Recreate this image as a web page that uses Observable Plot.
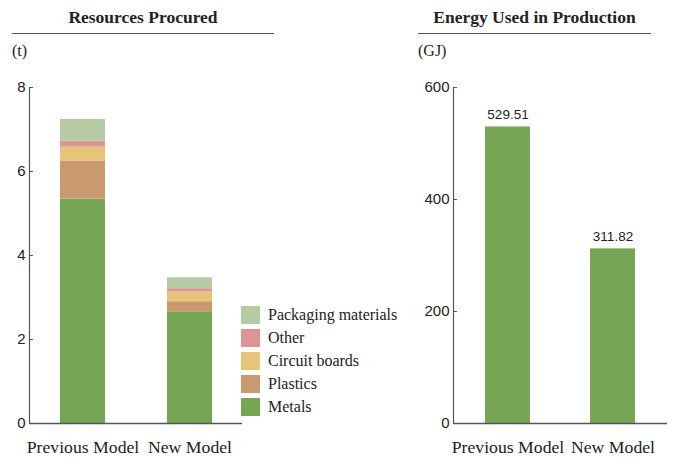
<!DOCTYPE html>
<html>
<head>
<meta charset="utf-8">
<script src="https://cdn.jsdelivr.net/npm/d3@7"></script>
<script src="https://cdn.jsdelivr.net/npm/@observablehq/plot@0.6"></script>
<style>
  html, body { margin: 0; padding: 0; background: #fff; }
  #wrap { position: relative; width: 684px; height: 457px; overflow: hidden;
          font-family: "Liberation Serif", "Times New Roman", serif; color: #222; }
  .title { position: absolute; top: 8.8px; line-height: 1; font-weight: bold; font-size: 17.5px; text-align: center; }
  .rule { position: absolute; top: 32.5px; height: 0; border-top: 1.4px solid #555; }
  .unit { position: absolute; top: 42.5px; line-height: 1; font-size: 16px; }
  .chart { position: absolute; top: 0; }
  .chart svg { overflow: visible; }
  #legend { position: absolute; left: 241px; top: 303.5px; }
  .item { display: flex; align-items: center; height: 23px; }
  .item .sw { width: 19px; height: 18px; margin-right: 8px; flex: none; }
  .item span { font-size: 16px; line-height: 1; white-space: nowrap; }
</style>
</head>
<body>
<div id="wrap">
  <div class="title" style="left:12px;width:262px;">Resources Procured</div>
  <div class="rule" style="left:12px;width:262px;"></div>
  <div class="unit" style="left:12px;">(t)</div>

  <div class="title" style="left:418px;width:233px;">Energy Used in Production</div>
  <div class="rule" style="left:418px;width:233px;"></div>
  <div class="unit" style="left:418px;">(GJ)</div>

  <div id="left" class="chart" style="left:0;"></div>
  <div id="right" class="chart" style="left:400px;"></div>
  <div id="legend"></div>
</div>
<script>
// Product models compared in both panels
const models = ["Previous Model", "New Model"];

// Material categories, bottom of the stack first
const materials = ["Metals", "Plastics", "Circuit boards", "Other", "Packaging materials"];
const materialColors = ["#76a553", "#c99a6e", "#e8c37a", "#dc9494", "#b6cba3"];

// Tonnes of each material procured, per model (same order as materials)
const previousTonnes = [5.34, 0.91, 0.33, 0.14, 0.52];
const newTonnes = [2.66, 0.24, 0.24, 0.07, 0.26];

// Energy used in production (GJ), per model
const energyGJ = [529.51, 311.82];

// Axis ticks
const tonneTicks = [0, 2, 4, 6, 8];
const energyTicks = [0, 200, 400, 600];

const serif = '"Liberation Serif", "Times New Roman", serif';
const sans = '"Liberation Sans", Arial, Helvetica, sans-serif';
const axisColor = "#555";

const resources = [];
models.forEach((model, m) => {
  const vals = m === 0 ? previousTonnes : newTonnes;
  materials.forEach((material, i) => resources.push({model, material, value: vals[i]}));
});
const energy = models.map((model, i) => ({model, value: energyGJ[i]}));

const leftChart = Plot.plot({
  width: 242, height: 457,
  marginTop: 87, marginBottom: 34, marginLeft: 29, marginRight: 0,
  style: {background: "transparent", color: "#222", fontFamily: serif, overflow: "visible"},
  x: {domain: models, paddingInner: 0.58, paddingOuter: 0.28},
  y: {domain: [0, 8]},
  color: {domain: materials, range: materialColors},
  marks: [
    Plot.barY(resources, {x: "model", y: "value", fill: "material", order: materials}),
    Plot.frame({anchor: "left", stroke: axisColor, strokeWidth: 1.2}),
    Plot.ruleY([0], {stroke: axisColor, strokeWidth: 1.4}),
    Plot.axisY({ticks: tonneTicks, tickSize: 0, tickPadding: 4, fontSize: 15, fontFamily: sans, label: null}),
    Plot.axisY({ticks: tonneTicks, tickSize: 4, dx: 4, fill: "none", stroke: axisColor, label: null}),
    Plot.axisX({tickSize: 0, tickPadding: 17, fontSize: 17.7, fontFamily: serif, label: null})
  ]
});
document.getElementById("left").appendChild(leftChart);

const rightChart = Plot.plot({
  width: 284, height: 457,
  marginTop: 87, marginBottom: 34, marginLeft: 53, marginRight: 17,
  style: {background: "transparent", color: "#222", fontFamily: serif, overflow: "visible"},
  x: {domain: models, paddingInner: 0.575, paddingOuter: 0.3},
  y: {domain: [0, 600]},
  marks: [
    Plot.barY(energy, {x: "model", y: "value", fill: materialColors[0]}),
    Plot.text(energy, {x: "model", y: "value", text: d => d.value.toFixed(2), dy: -8,
      lineAnchor: "bottom", fontSize: 13.5, fontFamily: sans, fill: "#222"}),
    Plot.frame({anchor: "left", stroke: axisColor, strokeWidth: 1.2}),
    Plot.ruleY([0], {stroke: axisColor, strokeWidth: 1.4}),
    Plot.axisY({ticks: energyTicks, tickSize: 0, tickPadding: 4, fontSize: 15, fontFamily: sans, label: null}),
    Plot.axisY({ticks: energyTicks, tickSize: 4, dx: 4, fill: "none", stroke: axisColor, label: null}),
    Plot.axisX({tickSize: 0, tickPadding: 17, fontSize: 17.7, fontFamily: serif, label: null})
  ]
});
document.getElementById("right").appendChild(rightChart);

// Legend, top of the stack first
const legend = document.getElementById("legend");
materials.slice().reverse().forEach(material => {
  const item = document.createElement("div");
  item.className = "item";
  const sw = document.createElement("div");
  sw.className = "sw";
  sw.style.background = materialColors[materials.indexOf(material)];
  const label = document.createElement("span");
  label.textContent = material;
  item.appendChild(sw);
  item.appendChild(label);
  legend.appendChild(item);
});
</script>
</body>
</html>
